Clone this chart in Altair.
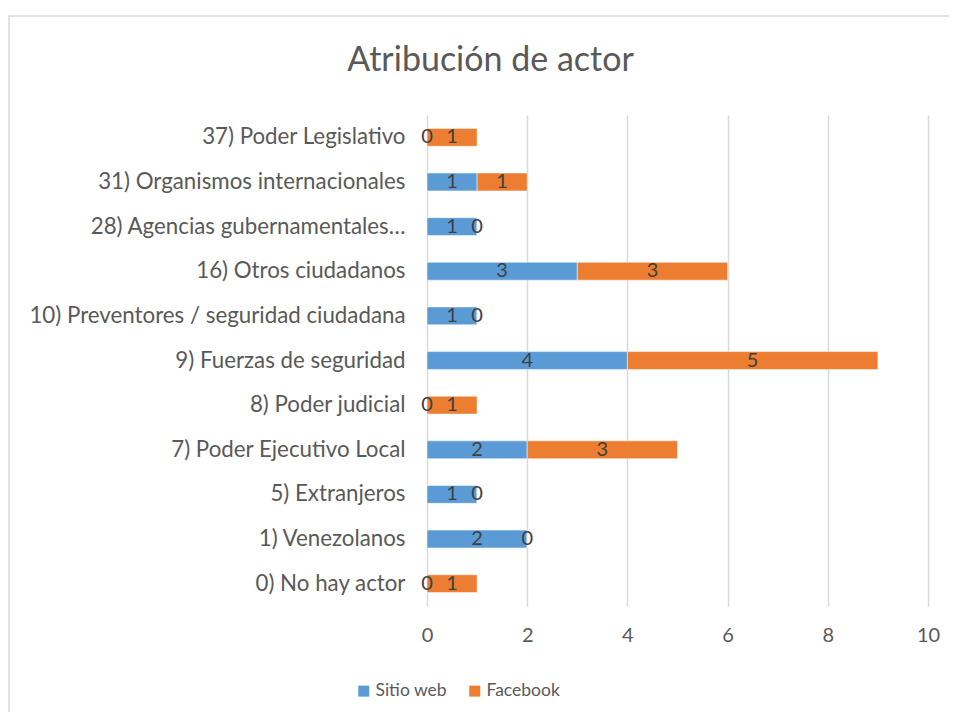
import altair as alt
import pandas as pd

categories = [
    "37) Poder Legislativo",
    "31) Organismos internacionales",
    "28) Agencias gubernamentales…",
    "16) Otros ciudadanos",
    "10) Preventores / seguridad ciudadana",
    "9) Fuerzas de seguridad",
    "8) Poder judicial",
    "7) Poder Ejecutivo Local",
    "5) Extranjeros",
    "1) Venezolanos",
    "0) No hay actor",
]
sitio_web = [0, 1, 1, 3, 1, 4, 0, 2, 1, 2, 0]
facebook = [1, 1, 0, 3, 0, 5, 1, 3, 0, 0, 1]
series = ["Sitio web", "Facebook"]
colors = ["#5B9BD5", "#ED7D31"]
x_ticks = [0, 2, 4, 6, 8, 10]

rows = []
for c, w, f in zip(categories, sitio_web, facebook):
    rows.append({"cat": c, "serie": "Sitio web", "val": w, "start": 0, "end": w, "mid": w / 2})
    rows.append({"cat": c, "serie": "Facebook", "val": f, "start": w, "end": w + f, "mid": w + f / 2})
df = pd.DataFrame(rows)

FONT = "Lato"
GREY = "#595959"

y_enc = alt.Y("cat:N", sort=categories, title=None,
              scale=alt.Scale(paddingInner=0.6, paddingOuter=0.3),
              axis=alt.Axis(labelFontSize=22.3, labelColor=GREY, labelFont=FONT,
                            ticks=False, domain=False, labelPadding=22, labelLimit=500))
x_scale = alt.Scale(domain=[0, 10])

bars = alt.Chart(df).mark_bar(stroke="white", strokeWidth=0.5).encode(
    x=alt.X("start:Q", scale=x_scale, title=None,
            axis=alt.Axis(values=x_ticks, labelFontSize=20, labelColor=GREY, labelFont=FONT,
                          ticks=False, domain=False, labelPadding=19, labelFlush=False,
                          grid=True, gridColor="#D9D9D9", gridWidth=1.5)),
    x2="end:Q",
    y=y_enc,
    color=alt.Color("serie:N", sort=series,
                    scale=alt.Scale(domain=series, range=colors),
                    legend=alt.Legend(title=None, orient="none", direction="horizontal",
                                      legendX=-72, legendY=567,
                                      symbolType="square", symbolSize=121,
                                      symbolStrokeWidth=0,
                                      labelFontSize=17.5, labelColor=GREY, labelFont=FONT,
                                      columnPadding=19, labelOffset=3)),
)

labels = alt.Chart(df).mark_text(fontSize=20, color="#404040", font=FONT, baseline="middle").encode(
    x=alt.X("mid:Q", scale=x_scale),
    y=alt.Y("cat:N", sort=categories),
    text="val:Q",
)

border = alt.Chart(pd.DataFrame({"a": [0]})).mark_rect(
    fill=None, stroke="#D9D9D9", strokeWidth=1.5, clip=False
).encode(x=alt.value(-418), x2=alt.value(560), y=alt.value(-99), y2=alt.value(640))

chart = alt.layer(border, bars, labels).properties(
    width=501, height=491,
    padding={"left": 419, "top": 107, "right": 21, "bottom": 106},
    autosize=alt.AutoSizeParams(type="none"),
    title=alt.TitleParams("Atribución de actor", fontSize=34, font=FONT, color=GREY,
                          fontWeight="normal", anchor="middle", frame="group",
                          dx=-187, offset=-63),
).configure_view(stroke=None)

chart.save("out.html", embed_options={"renderer": "svg", "actions": False})
